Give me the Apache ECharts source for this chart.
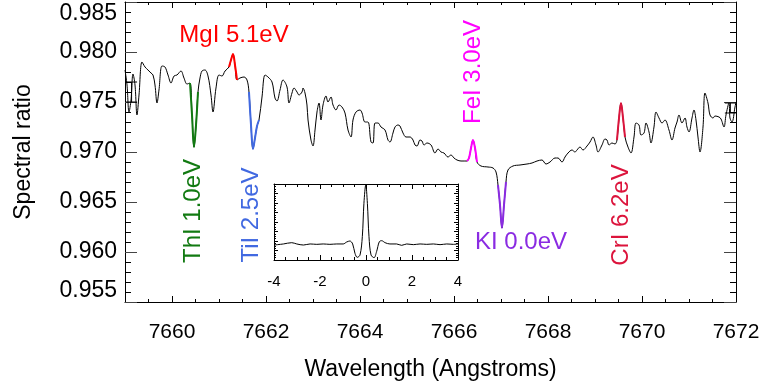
<!DOCTYPE html>
<html><head><meta charset="utf-8">
<script src="https://cdn.jsdelivr.net/npm/echarts@6/dist/echarts.min.js"></script>
<style>html,body{margin:0;padding:0;background:#fff}#c{width:764px;height:389px}</style>
</head><body><div id="c"></div>
<script>
// ---- data ----
const wavelength = [7659.000,7659.043,7659.085,7659.128,7659.170,7659.213,7659.255,7659.298,7659.362,7659.426,7659.489,7659.553,7659.596,7659.638,7659.681,7659.723,7659.787,7659.851,7659.915,7659.979,
7660.043,7660.106,7660.191,7660.255,7660.319,7660.383,7660.426,7660.468,7660.511,7660.553,7660.596,7660.638,7660.702,7660.766,7660.830,7660.872,7660.936,
7661.000,7661.064,7661.128,7661.213,7661.255,7661.298,7661.340,7661.383,7661.447,7661.532,7661.596,7661.638,7661.681,7661.723,7661.766,7661.809,7661.851,7661.915,7661.979,
7662.043,7662.128,7662.191,7662.234,7662.298,7662.362,7662.447,7662.489,7662.553,7662.596,7662.660,7662.702,7662.766,7662.787,7662.830,7662.872,7662.894,7662.957,
7663.000,7663.043,7663.085,7663.128,7663.170,7663.213,7663.277,7663.319,7663.383,7663.426,7663.489,7663.553,7663.617,7663.681,7663.745,7663.809,7663.851,7663.915,
7664.000,7664.043,7664.106,7664.170,7664.234,7664.277,7664.319,7664.383,7664.447,7664.532,7664.596,7664.638,7664.702,7664.745,7664.809,7664.851,7664.915,7664.979,
7665.064,7665.128,7665.170,7665.213,7665.277,7665.319,7665.362,7665.426,7665.511,7665.596,7665.660,7665.723,7665.787,7665.872,7665.936,
7666.000,7666.064,7666.149,7666.277,7666.319,7666.362,7666.404,7666.447,7666.489,7666.574,7666.723,7666.830,7666.894,7666.936,7666.979,
7667.021,7667.064,7667.106,7667.149,7667.255,7667.404,7667.553,7667.660,7667.766,7667.872,7667.957,
7668.043,7668.149,7668.213,7668.298,7668.362,7668.426,7668.511,7668.574,7668.617,7668.681,7668.745,7668.830,7668.894,7668.957,
7669.021,7669.064,7669.149,7669.213,7669.255,7669.298,7669.362,7669.426,7669.468,7669.511,7669.553,7669.596,7669.638,7669.702,7669.766,7669.830,7669.872,7669.936,7669.979,
7670.043,7670.085,7670.149,7670.191,7670.255,7670.298,7670.362,7670.426,7670.489,7670.574,7670.638,7670.702,7670.745,7670.787,7670.851,7670.915,7670.957,
7671.000,7671.064,7671.106,7671.149,7671.191,7671.234,7671.298,7671.340,7671.404,7671.447,7671.511,7671.553,7671.638,7671.681,7671.745,7671.787,7671.851,7671.872,7671.915,7671.979,7672.000];
const ratio = [0.9782,0.9767,0.9740,0.9752,0.9778,0.9767,0.9737,0.9757,0.9790,0.9785,0.9782,0.9779,0.9777,0.9767,0.9749,0.9762,0.9786,0.9785,0.9777,0.9769,
0.9776,0.9777,0.9781,0.9774,0.9768,0.9769,0.9737,0.9705,0.9727,0.9760,0.9774,0.9781,0.9782,0.9776,0.9757,0.9740,0.9764,
0.9777,0.9776,0.9781,0.9785,0.9792,0.9798,0.9787,0.9772,0.9774,0.9775,0.9772,0.9760,0.9727,0.9703,0.9714,0.9726,0.9732,0.9755,0.9777,
0.9775,0.9770,0.9754,0.9751,0.9762,0.9772,0.9765,0.9749,0.9759,0.9764,0.9760,0.9757,0.9760,0.9764,0.9759,0.9747,0.9732,0.9712,
0.9706,0.9722,0.9740,0.9749,0.9732,0.9747,0.9756,0.9750,0.9755,0.9747,0.9742,0.9747,0.9745,0.9739,0.9722,0.9715,0.9732,0.9740,
0.9742,0.9739,0.9730,0.9730,0.9710,0.9709,0.9729,0.9729,0.9725,0.9722,0.9712,0.9710,0.9719,0.9725,0.9727,0.9726,0.9719,0.9715,
0.9715,0.9712,0.9707,0.9706,0.9712,0.9711,0.9707,0.9709,0.9707,0.9699,0.9703,0.9700,0.9699,0.9695,0.9697,
0.9694,0.9692,0.9691,0.9691,0.9694,0.9704,0.9712,0.9704,0.9690,0.9686,0.9685,0.9684,0.9680,0.9667,0.9647,
0.9624,0.9647,0.9670,0.9682,0.9686,0.9687,0.9688,0.9689,0.9691,0.9692,0.9688,
0.9690,0.9694,0.9694,0.9690,0.9695,0.9699,0.9702,0.9700,0.9702,0.9705,0.9702,0.9706,0.9710,0.9715,
0.9707,0.9700,0.9707,0.9713,0.9712,0.9707,0.9709,0.9708,0.9712,0.9734,0.9749,0.9734,0.9715,0.9705,0.9699,0.9715,0.9729,0.9727,0.9717,
0.9719,0.9729,0.9720,0.9709,0.9725,0.9740,0.9734,0.9729,0.9732,0.9722,0.9712,0.9724,0.9730,0.9737,0.9729,0.9734,0.9725,
0.9720,0.9734,0.9742,0.9732,0.9715,0.9700,0.9725,0.9759,0.9749,0.9737,0.9734,0.9736,0.9735,0.9733,0.9725,0.9737,0.9749,0.9734,0.9730,0.9745,0.9750];

// highlighted atomic lines: name, wavelength range
const lineNames  = ['ThI 1.0eV','MgI 5.1eV','TiI 2.5eV','FeI 3.0eV','KI 0.0eV','CrI 6.2eV'];
const lineLo     = [7660.38, 7661.21, 7661.63, 7666.27, 7666.93, 7669.46];
const lineHi     = [7660.56, 7661.39, 7661.86, 7666.50, 7667.11, 7669.64];

// error bars at the ends
const errX  = [7659.14, 7671.88];
const errLo = [0.9750, 0.9739];
const errHi = [0.9770, 0.9749];

// inset cross-correlation
const insetLag  = [-4.00,-3.59,-3.23,-3.01,-2.72,-2.43,-2.14,-1.86,-1.57,-1.27,-0.99,-0.84,-0.70,-0.58,-0.48,-0.38,-0.26,-0.16,-0.09,-0.01,0.06,0.13,0.22,0.35,0.46,0.58,0.68,0.83,1.04,1.33,1.55,1.77,2.06,2.35,2.64,2.93,3.22,3.51,3.80,4.00];
const insetCorr = [0.197,0.211,0.228,0.211,0.197,0.211,0.206,0.211,0.206,0.211,0.211,0.237,0.250,0.211,0.088,0.035,0.066,0.307,0.746,0.987,0.746,0.307,0.066,0.031,0.110,0.241,0.254,0.228,0.211,0.211,0.193,0.211,0.202,0.211,0.206,0.211,0.202,0.211,0.206,0.211];

// tick labels
const xTickLabels = [7660,7662,7664,7666,7668,7670,7672];

// ---- styling / layout (not data) ----
const lineColors = ['#127a12','#ff0000','#4169e1','#ff00ff','#8a2be2','#dc143c'];
const labelAnchors = [[7660.447,0.9641,true],[7661.319,0.9817,false],[7661.681,0.9637,true],[7666.404,0.9780,true],[7667.426,0.9610,false],[7669.553,0.9637,true]];
const FONT = "'Liberation Sans', Arial, Helvetica, sans-serif";

const spec = wavelength.map((w,i)=>[w, ratio[i]]);
const chart = echarts.init(document.getElementById('c'), null, {renderer:'canvas'});

const mainX = (pos, major, labels) => ({
  type:'value', gridIndex:0, position:pos, min:7659, max:7672,
  interval: major ? undefined : 0.5,
  axisLine:{show:major, onZero:false, lineStyle:{color:'#000', width:1}},
  axisTick: major ? {show:true, inside:true, length:6, lineStyle:{color:'#000'}, customValues:xTickLabels}
                  : {show:true, inside:true, length:3, lineStyle:{color:'#000'}},
  axisLabel: labels ? {show:true, customValues:xTickLabels, margin:20, fontSize:21, color:'#000', fontFamily:FONT,
                        formatter:v=>String(v)} : {show:false},
  splitLine:{show:false}
});
const mainY = (pos, labels) => ({
  type:'value', gridIndex:0, position:pos, min:0.955, max:0.985, interval:0.005,
  axisLine:{show:true, onZero:false, lineStyle:{color:'#000', width:1}},
  axisTick:{show:true, inside:true, length:12, lineStyle:{color:'#444'}},
  minorTick:{show:true, splitNumber:5, length:6, lineStyle:{color:'#000'}},
  axisLabel: labels ? {show:true, margin:8, fontSize:23, color:'#000', fontFamily:FONT,
     formatter:v=>v.toFixed(3), verticalAlignMinLabel:'bottom', verticalAlignMaxLabel:'top'} : {show:false},
  splitLine:{show:false}
});
const insetX = (pos, labels) => ({
  type:'value', gridIndex:1, position:pos, min:-4, max:4, interval:2,
  axisLine:{show:true, onZero:false, lineStyle:{color:'#000', width:1}},
  axisTick:{show:true, inside:true, length:5, lineStyle:{color:'#000'}},
  minorTick:{show:true, splitNumber:4, length:3, lineStyle:{color:'#000'}},
  axisLabel: labels ? {show:true, margin:14, fontSize:15, color:'#000', fontFamily:FONT} : {show:false},
  splitLine:{show:false}
});
const insetY = (pos) => ({
  type:'value', gridIndex:1, position:pos, min:0, max:1, interval:0.125,
  axisLine:{show:true, onZero:false, lineStyle:{color:'#000', width:1}},
  axisTick:{show:true, inside:true, length:4, lineStyle:{color:'#000'}},
  minorTick:{show:true, splitNumber:4, length:2, lineStyle:{color:'#000'}},
  axisLabel:{show:false}, splitLine:{show:false}
});

const xAxes = [mainX('bottom',true,true), mainX('bottom',false,false), mainX('top',true,false), mainX('top',false,false),
               insetX('bottom',true), insetX('top',false)];
xAxes[0].name = 'Wavelength (Angstroms)';
xAxes[0].nameLocation = 'middle';
xAxes[0].nameGap = 56;
xAxes[0].nameTextStyle = {fontSize:23, color:'#000', fontFamily:FONT};
const yAxes = [mainY('left',true), mainY('right',false), insetY('left'), insetY('right')];
yAxes[0].name = 'Spectral ratio';
yAxes[0].nameLocation = 'middle';
yAxes[0].nameGap = 90;
yAxes[0].nameTextStyle = {fontSize:23, color:'#000', fontFamily:FONT};

const series = [{
  type:'line', xAxisIndex:0, yAxisIndex:0, data:spec, showSymbol:false, smooth:0.35,
  lineStyle:{color:'#000', width:1}, z:2, silent:true
}];
lineNames.forEach((n,k)=>{
  series.push({
    type:'line', name:n, xAxisIndex:0, yAxisIndex:0, showSymbol:false, smooth:0.35,
    data: spec.filter(p=>p[0]>=lineLo[k] && p[0]<=lineHi[k]),
    lineStyle:{color:lineColors[k], width:2}, z:3, silent:true
  });
});
series.push({
  type:'custom', xAxisIndex:0, yAxisIndex:0, silent:true, z:4,
  data: errX.map((x,i)=>[x, errLo[i], errHi[i]]),
  renderItem:(params, api)=>{
    const a = api.coord([api.value(0), api.value(1)]);
    const b = api.coord([api.value(0), api.value(2)]);
    const s = {stroke:'#000', lineWidth:1};
    return {type:'group', children:[
      {type:'line', shape:{x1:a[0], y1:a[1], x2:b[0], y2:b[1]}, style:s},
      {type:'line', shape:{x1:a[0]-5.5, y1:a[1], x2:a[0]+5.5, y2:a[1]}, style:s},
      {type:'line', shape:{x1:b[0]-5.5, y1:b[1], x2:b[0]+5.5, y2:b[1]}, style:s}
    ]};
  }
});
series.push({
  type:'line', xAxisIndex:4, yAxisIndex:2, data: insetLag.map((x,i)=>[x, insetCorr[i]]),
  showSymbol:false, smooth:0.35, lineStyle:{color:'#000', width:1}, silent:true
});

chart.setOption({
  animation:false,
  backgroundColor:'#fff',
  grid:[
    {left:125, right:28, top:2, height:300, containLabel:false},
    {left:274, top:184, width:184, height:76, containLabel:false, show:true, backgroundColor:'#fff', borderWidth:0}
  ],
  xAxis:xAxes, yAxis:yAxes, series:series
});

// annotation labels, anchored to data coordinates
const graphics = lineNames.map((n,k)=>{
  const p = chart.convertToPixel({xAxisIndex:0, yAxisIndex:0}, [labelAnchors[k][0], labelAnchors[k][1]]);
  return {
    type:'text', x:p[0], y:p[1], rotation: labelAnchors[k][2] ? Math.PI/2 : 0, z:10,
    style:{text:n, fill:lineColors[k], font:'24px ' + FONT, align:'center', verticalAlign:'middle'}
  };
});
chart.setOption({graphic:graphics});
</script>
</body></html>
